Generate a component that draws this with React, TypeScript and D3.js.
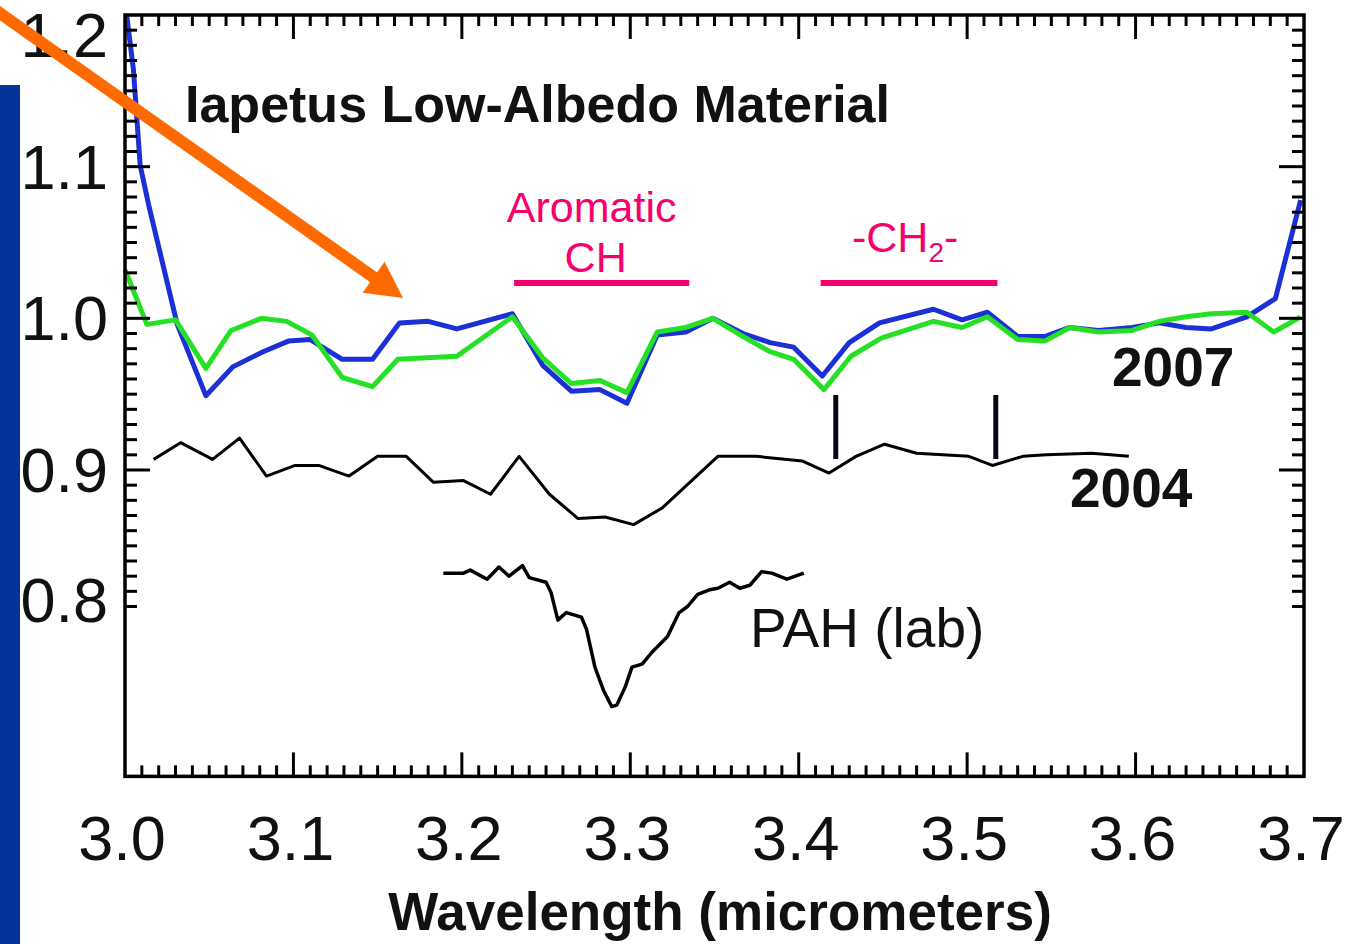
import React from 'react';
import * as d3 from 'd3';

// ---- data (wavelength in micrometers, normalized reflectance) ----
const xTickLabels = ['3.0', '3.1', '3.2', '3.3', '3.4', '3.5', '3.6', '3.7'];
const xTickValues = [3.0, 3.1, 3.2, 3.3, 3.4, 3.5, 3.6, 3.7];
const yTickLabels = ['1.2', '1.1', '1.0', '0.9', '0.8'];
const yTickValues = [1.2, 1.1, 1.0, 0.9, 0.8];

const blueWl = [3.001, 3.005, 3.009, 3.014, 3.031, 3.048, 3.064, 3.082, 3.097, 3.110, 3.129, 3.147, 3.163, 3.180, 3.197, 3.230, 3.248, 3.265, 3.282, 3.298, 3.316, 3.333, 3.349, 3.367, 3.383, 3.397, 3.414, 3.430, 3.448, 3.480, 3.497, 3.512, 3.530, 3.546, 3.561, 3.578, 3.598, 3.614, 3.630, 3.645, 3.666, 3.683, 3.698];
const blueVal = [1.200, 1.164, 1.101, 1.075, 0.996, 0.949, 0.968, 0.978, 0.985, 0.986, 0.973, 0.973, 0.997, 0.998, 0.993, 1.003, 0.969, 0.952, 0.953, 0.944, 0.989, 0.991, 1.000, 0.990, 0.984, 0.981, 0.962, 0.984, 0.997, 1.006, 0.999, 1.004, 0.988, 0.988, 0.994, 0.992, 0.994, 0.997, 0.994, 0.993, 1.001, 1.013, 1.078];

const greenWl = [3.000, 3.013, 3.030, 3.048, 3.063, 3.081, 3.096, 3.111, 3.129, 3.147, 3.162, 3.197, 3.230, 3.248, 3.265, 3.282, 3.298, 3.316, 3.333, 3.349, 3.367, 3.383, 3.397, 3.415, 3.431, 3.449, 3.480, 3.497, 3.512, 3.530, 3.546, 3.561, 3.578, 3.598, 3.614, 3.630, 3.645, 3.666, 3.682, 3.698];
const greenVal = [1.032, 0.996, 0.999, 0.967, 0.992, 1.000, 0.998, 0.989, 0.961, 0.955, 0.973, 0.975, 1.001, 0.974, 0.957, 0.959, 0.951, 0.991, 0.994, 1.000, 0.988, 0.978, 0.973, 0.953, 0.975, 0.987, 0.998, 0.994, 1.001, 0.986, 0.985, 0.994, 0.991, 0.992, 0.998, 1.001, 1.003, 1.004, 0.991, 1.001];

const wl2004 = [3.017, 3.033, 3.052, 3.068, 3.084, 3.101, 3.115, 3.133, 3.150, 3.167, 3.183, 3.201, 3.217, 3.234, 3.252, 3.269, 3.285, 3.302, 3.319, 3.352, 3.375, 3.402, 3.418, 3.434, 3.451, 3.470, 3.501, 3.515, 3.533, 3.547, 3.574, 3.596];
const val2004 = [0.907, 0.918, 0.907, 0.921, 0.896, 0.903, 0.903, 0.896, 0.909, 0.909, 0.892, 0.893, 0.884, 0.909, 0.884, 0.868, 0.869, 0.864, 0.875, 0.909, 0.909, 0.906, 0.898, 0.909, 0.917, 0.911, 0.909, 0.903, 0.909, 0.910, 0.911, 0.909];

const pahWl = [3.189, 3.201, 3.205, 3.215, 3.222, 3.228, 3.236, 3.240, 3.250, 3.253, 3.257, 3.262, 3.271, 3.274, 3.279, 3.284, 3.289, 3.292, 3.297, 3.301, 3.307, 3.313, 3.322, 3.329, 3.334, 3.340, 3.347, 3.352, 3.359, 3.365, 3.371, 3.378, 3.384, 3.393, 3.403];
const pahVal = [0.832, 0.832, 0.834, 0.828, 0.836, 0.830, 0.837, 0.829, 0.826, 0.819, 0.801, 0.806, 0.803, 0.795, 0.770, 0.755, 0.744, 0.745, 0.757, 0.770, 0.772, 0.780, 0.790, 0.806, 0.810, 0.818, 0.821, 0.822, 0.826, 0.822, 0.824, 0.833, 0.832, 0.828, 0.832];

const plotBottomValue = 0.698;
const annotationMarks = [3.422, 3.517];
const aromaticSpan = [3.231, 3.335];
const ch2Span = [3.413, 3.518];

const FONT = '"Liberation Sans", Arial, Helvetica, sans-serif';
const PINK = '#f7006d';

export default function App() {
  const x = d3.scaleLinear().domain([3.0, 3.7]).range([125, 1304]);
  const y = d3.scaleLinear().domain([0.9, 1.2]).range([470, 15]);

  const line = d3.line<[number, number]>().x(d => x(d[0])).y(d => y(d[1]));
  const zip = (a: number[], b: number[]) => a.map((v, i) => [v, b[i]] as [number, number]);

  const left = x(3.0), right = x(3.7), top = y(1.2), bottom = y(plotBottomValue);

  const xMinor = d3.range(1, 70).map(i => ({ v: 3.0 + i * 0.01, major: i % 10 === 0 }));
  const yMinor = d3.range(1, 40).map(i => ({ v: 1.2 - i * 0.01, major: i % 10 === 0 }));

  // arrow geometry
  const a0 = [-6, 9], a1 = [403, 298];
  const dx = a1[0] - a0[0], dy = a1[1] - a0[1];
  const len = Math.hypot(dx, dy);
  const ux = dx / len, uy = dy / len;
  const headL = 36, headW = 19;
  const bx = a1[0] - ux * headL, by = a1[1] - uy * headL;
  const head = `${a1[0]},${a1[1]} ${bx - uy * headW},${by + ux * headW} ${bx + uy * headW},${by - ux * headW}`;

  return (
    <svg width={1364} height={944} style={{ position: 'absolute', left: 0, top: 0, background: '#fff' }}>
      <rect x={0} y={0} width={1364} height={944} fill="#fff" />

      {/* series */}
      <path d={line(zip(pahWl, pahVal)) || ''} fill="none" stroke="#000" strokeWidth={3.5} strokeLinejoin="round" />
      <path d={line(zip(wl2004, val2004)) || ''} fill="none" stroke="#000" strokeWidth={3} strokeLinejoin="round" />
      <path d={line(zip(blueWl, blueVal)) || ''} fill="none" stroke="#1c30d8" strokeWidth={5} strokeLinejoin="round" />
      <path d={line(zip(greenWl, greenVal)) || ''} fill="none" stroke="#26e026" strokeWidth={5} strokeLinejoin="round" />

      {/* frame */}
      <rect x={left} y={top} width={right - left} height={bottom - top} fill="none" stroke="#000" strokeWidth={3.5} />
      {xMinor.map((t, i) => {
        const L = t.major ? 24 : 11;
        return (
          <g key={'xt' + i} stroke="#000" strokeWidth={3}>
            <line x1={x(t.v)} x2={x(t.v)} y1={bottom} y2={bottom - L} />
            <line x1={x(t.v)} x2={x(t.v)} y1={top} y2={top + L} />
          </g>
        );
      })}
      {yMinor.map((t, i) => {
        const L = t.major ? 25 : 12;
        return (
          <g key={'yt' + i} stroke="#000" strokeWidth={3}>
            <line x1={left} x2={left + L} y1={y(t.v)} y2={y(t.v)} />
            <line x1={right} x2={right - L} y1={y(t.v)} y2={y(t.v)} />
          </g>
        );
      })}

      {/* tick labels */}
      {xTickValues.map((v, i) => (
        <text key={'xl' + i} x={x(v) - 3} y={860} fontFamily={FONT} fontSize={63} textAnchor="middle" fill="#111">{xTickLabels[i]}</text>
      ))}
      {yTickValues.map((v, i) => {
        const cy = Math.min(Math.max(y(v), y(1.2) + 20), y(0.8) - 22);
        return (
          <text key={'yl' + i} x={108} y={cy + 22} fontFamily={FONT} fontSize={63} textAnchor="end" fill="#111">{yTickLabels[i]}</text>
        );
      })}
      {/* left blue bar, drawn over label edges */}
      <rect x={0} y={85} width={20} height={859} fill="#063399" />

      <text x={720} y={930} fontFamily={FONT} fontSize={53} fontWeight="bold" textAnchor="middle" fill="#111">Wavelength (micrometers)</text>
      <text x={185} y={122} fontFamily={FONT} fontSize={52} fontWeight="bold" fill="#111">Iapetus Low-Albedo Material</text>

      <text x={1112} y={386} fontFamily={FONT} fontSize={55} fontWeight="bold" fill="#111">2007</text>
      <text x={1070} y={507} fontFamily={FONT} fontSize={55} fontWeight="bold" fill="#111">2004</text>
      <text x={750} y={647} fontFamily={FONT} fontSize={55} fill="#111">PAH (lab)</text>

      {/* pink annotations */}
      <text x={(x(aromaticSpan[0]) + x(aromaticSpan[1])) / 2 - 10} y={222} fontFamily={FONT} fontSize={43} textAnchor="middle" fill={PINK}>Aromatic</text>
      <text x={(x(aromaticSpan[0]) + x(aromaticSpan[1])) / 2 - 6} y={272} fontFamily={FONT} fontSize={43} textAnchor="middle" fill={PINK}>CH</text>
      <line x1={x(aromaticSpan[0])} x2={x(aromaticSpan[1])} y1={283} y2={283} stroke={PINK} strokeWidth={6} />
      <text x={852} y={252} fontFamily={FONT} fontSize={43} fill={PINK}>-CH<tspan fontSize={28} dy={10}>2</tspan><tspan dy={-10}>-</tspan></text>
      <line x1={x(ch2Span[0])} x2={x(ch2Span[1])} y1={283} y2={283} stroke={PINK} strokeWidth={6} />

      {annotationMarks.map((v, i) => (
        <line key={'m' + i} x1={x(v)} x2={x(v)} y1={395} y2={459} stroke="#050818" strokeWidth={5} />
      ))}

      {/* orange arrow */}
      <line x1={a0[0]} y1={a0[1]} x2={bx + ux * 4} y2={by + uy * 4} stroke="#ff6a00" strokeWidth={12} />
      <polygon points={head} fill="#ff6a00" />
    </svg>
  );
}
